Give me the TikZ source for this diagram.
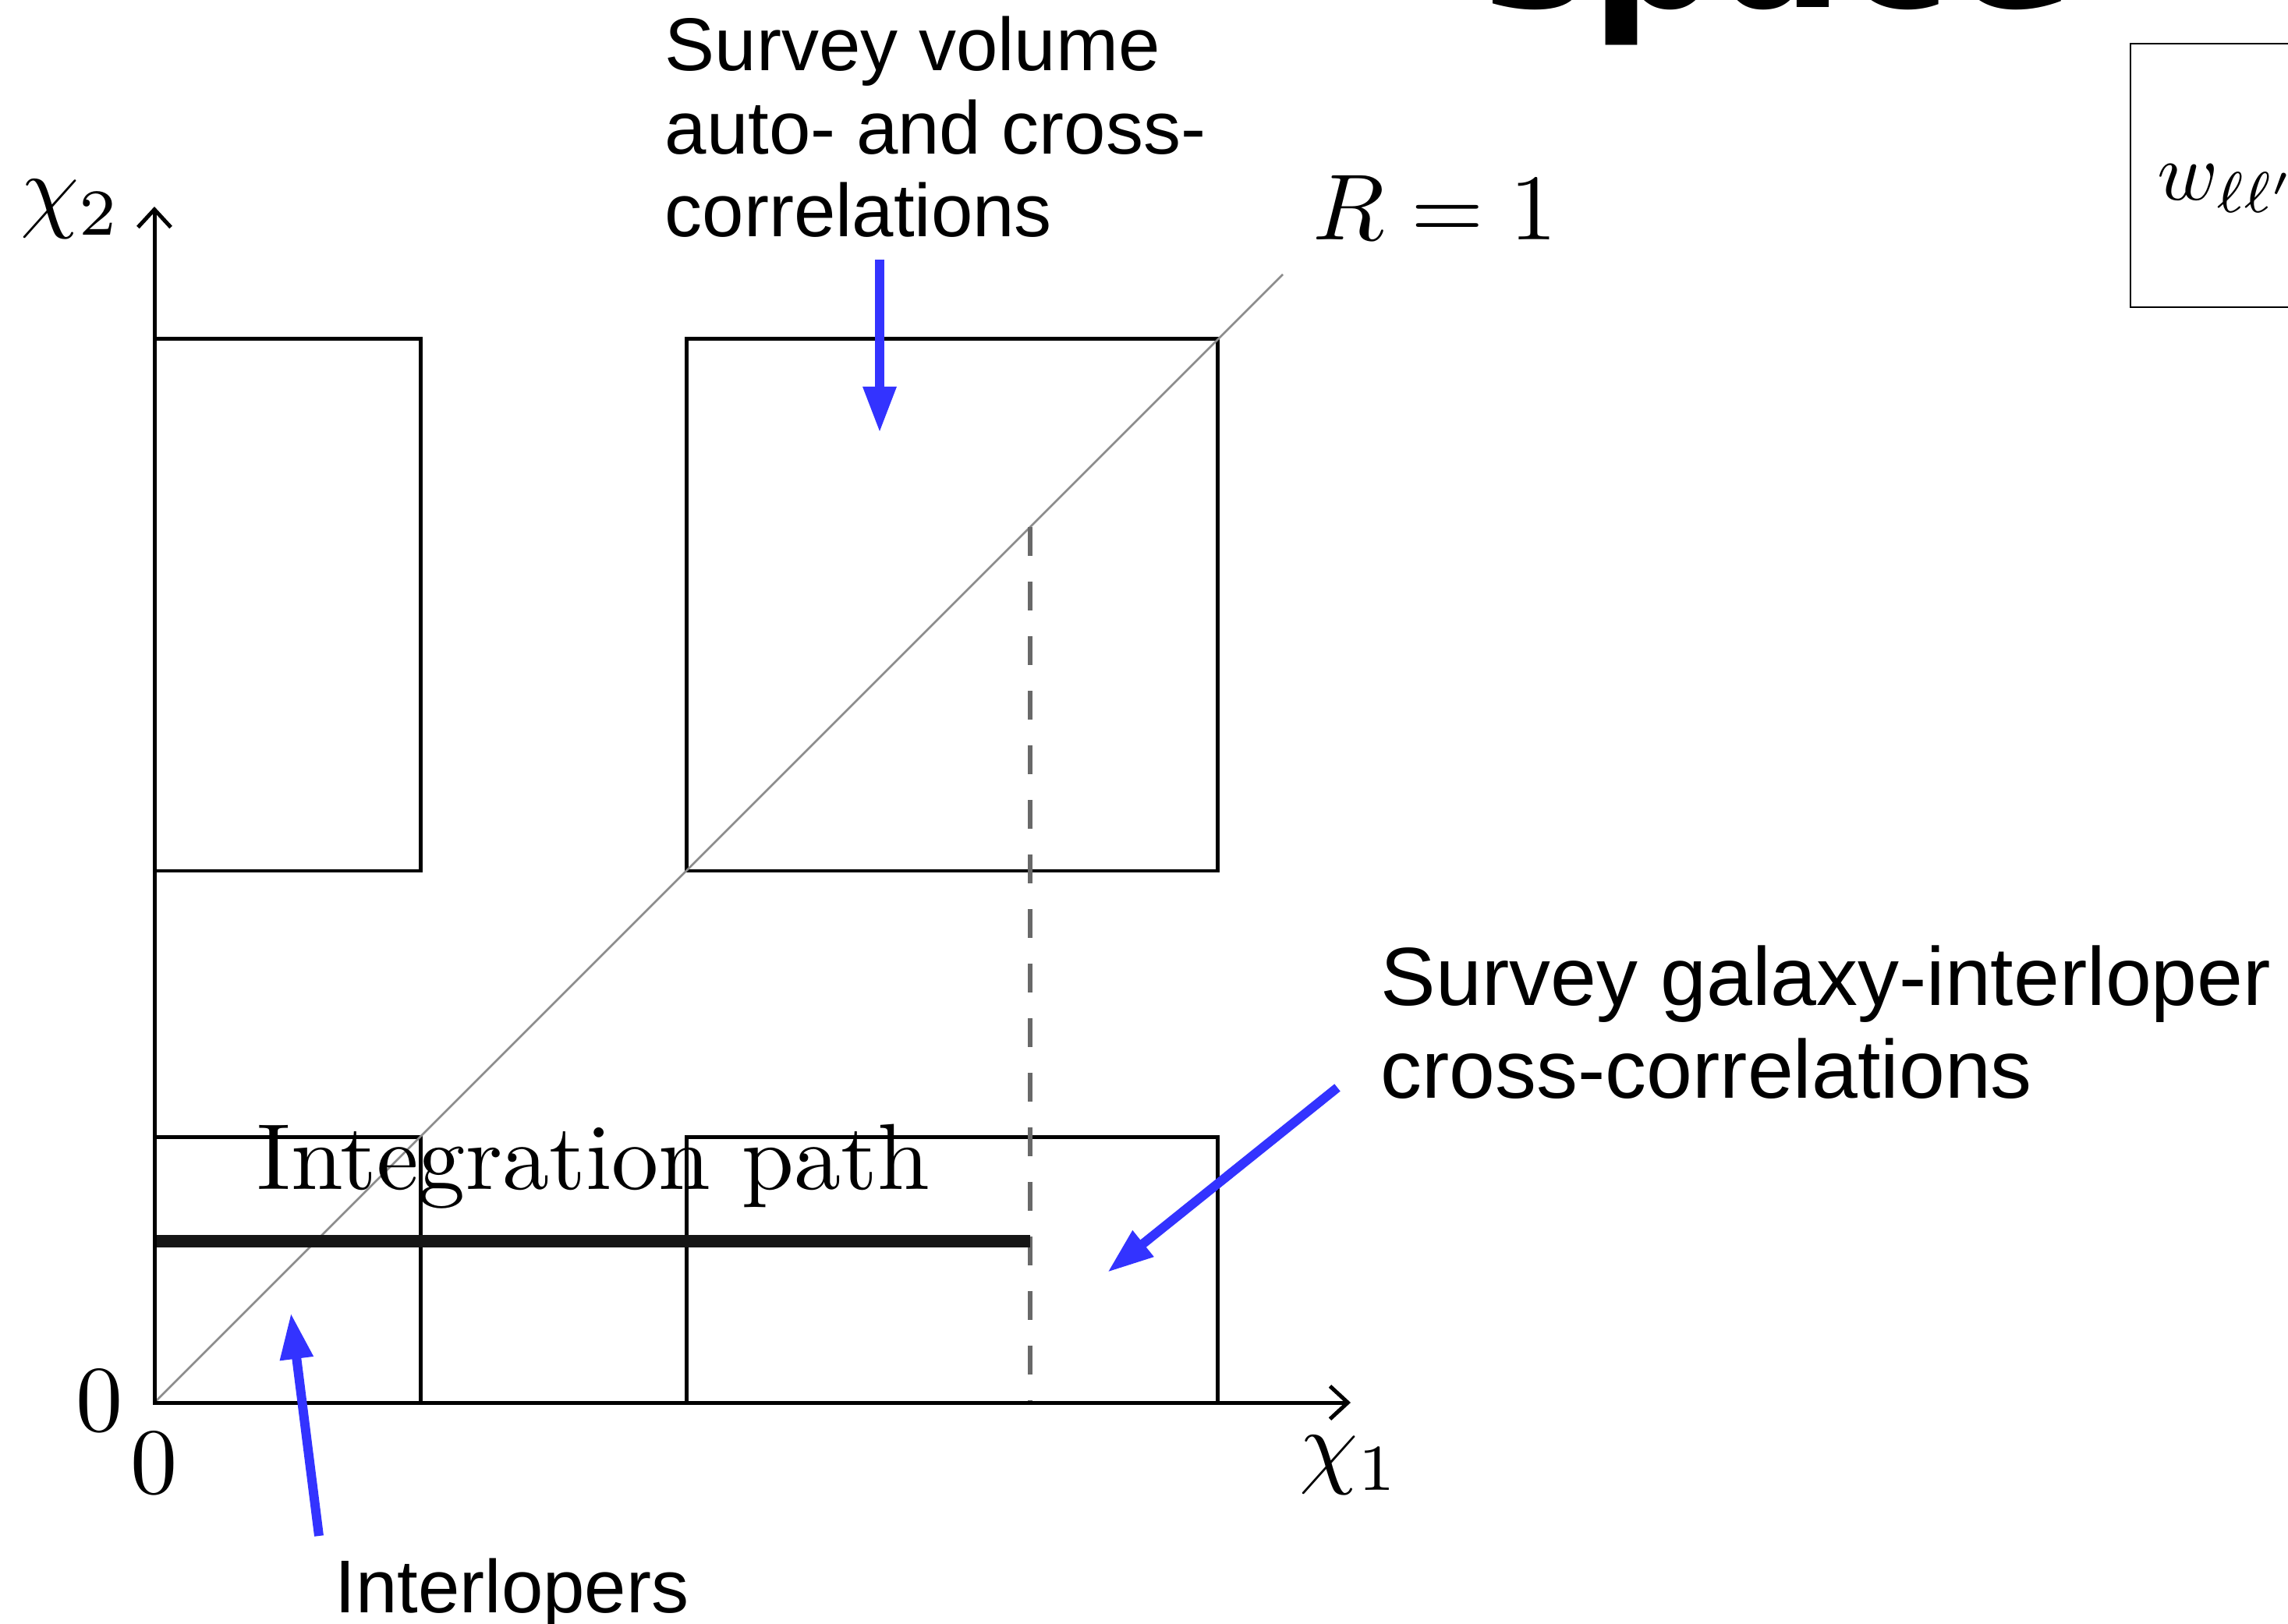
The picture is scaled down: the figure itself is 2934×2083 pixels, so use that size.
\documentclass[tikz,border=0pt]{standalone}
\usepackage{fontspec}
\newfontfamily\arial{Liberation Sans}
\newfontfamily\djv{DejaVu Sans}
\usetikzlibrary{arrows.meta}
\definecolor{arrowblue}{RGB}{51,51,255}
\definecolor{diaggray}{RGB}{140,140,140}
\definecolor{dashgray}{RGB}{105,105,105}
\definecolor{pathblack}{RGB}{22,22,22}
\newcommand{\lmbig}[1]{\scalebox{3.42}{\fontsize{10}{12}\selectfont #1}}
\tikzset{
  boxline/.style={draw=black,line width=1.42pt},
  axisline/.style={draw=black,line width=1.42pt,-{Straight Barb[length=6.5pt,width=12pt]}},
  diagline/.style={draw=diaggray,line width=0.75pt},
  dashline/.style={draw=dashgray,line width=1.5pt,dash pattern=on 10.5pt off 9.4pt},
  intpath/.style={draw=pathblack,line width=4.3pt},
  bluearrow/.style={draw=arrowblue,line width=3.4pt,-{Triangle[length=16.8pt,width=11.4pt]}},
  lmlabel/.style={inner sep=0pt},
  sanslabel/.style={inner sep=0pt,anchor=base west,font=\arial\fontsize{27.3}{30.3}\selectfont},
  sanslabelbig/.style={inner sep=0pt,anchor=base west,font=\arial\fontsize{30.1}{33.9}\selectfont},
}
\begin{document}
\begin{tikzpicture}[x=0.01cm,y=-0.01cm]
\useasboundingbox (0,0) rectangle (2934,2083);
% key coordinates
\coordinate (O) at (198,1799);
\coordinate (ytip) at (198,265);
\coordinate (xtip) at (1732,1799);
\coordinate (diagend) at (1645,352);
\coordinate (dashtop) at (1321,676);
\coordinate (dashbot) at (1321,1799);
\coordinate (pathstart) at (198,1592);
\coordinate (pathend) at (1321,1592);
% boxes
\path[boxline] (198,435) rectangle (539,1117);
\path[boxline] (880,435) rectangle (1561,1117);
\path[boxline] (198,1458) rectangle (539,1799);
\path[boxline] (880,1458) rectangle (1561,1799);
% diagonal R=1
\path[diagline] (O) -- (diagend);
% dashed vertical
\path[dashline] (dashtop) -- (dashbot);
% integration path
\path[intpath] (pathstart) -- (pathend);
% axes
\path[axisline] (O) -- (ytip);
\path[axisline] (O) -- (xtip);
% LaTeX labels
\node[lmlabel,anchor=base west] (chi2) at (26,283) {\lmbig{$\chi_2$}};
\node[lmlabel,anchor=base west] (chi1) at (1666,1893) {\lmbig{$\chi_1$}};
\node[lmlabel] (zeroy) at (128,1797) {\lmbig{0}};
\node[lmlabel] (zerox) at (198,1877) {\lmbig{0}};
\node[lmlabel,anchor=base west] (Req) at (1683,308) {\lmbig{$R=1$}};
\node[lmlabel,anchor=base west] (intlabel) at (329,1525) {\lmbig{Integration path}};
% sans labels
\node[sanslabel] (svA) at (852,91) {Survey volume};
\node[sanslabel] (svB) at (852,197.5) {auto- and cross-};
\node[sanslabel] (svC) at (852,304) {correlations};
\node[sanslabelbig] (sgA) at (1770,1289) {Survey galaxy-interloper};
\node[sanslabelbig] (sgB) at (1770,1408) {cross-correlations};
\node[sanslabel] (interl) at (429,2068) {Interlopers};
% blue arrows
\coordinate (svtail) at (1128,333);
\coordinate (svtip) at (1128,555);
\coordinate (sgtail) at (1715,1395);
\coordinate (sgtip) at (1420,1632);
\coordinate (intail) at (409,1970);
\coordinate (intip) at (373,1684);
\path[bluearrow] (svtail) -- (svtip);
\path[bluearrow] (sgtail) -- (sgtip);
\path[bluearrow] (intail) -- (intip);
% cut-off heading and side box
\node[inner sep=0pt,anchor=base west,font=\djv\bfseries\fontsize{66.3}{70}\selectfont] (heading) at (1900,9.5) {space};
\path[draw=black,line width=0.8pt] (2732,56) rectangle (3100,394);
\node[inner sep=0pt,anchor=base west] (wll) at (2766,257) {\scalebox{3.0}{\fontsize{10}{12}\selectfont$w_{\ell\ell'}$}};
\end{tikzpicture}
\end{document}
